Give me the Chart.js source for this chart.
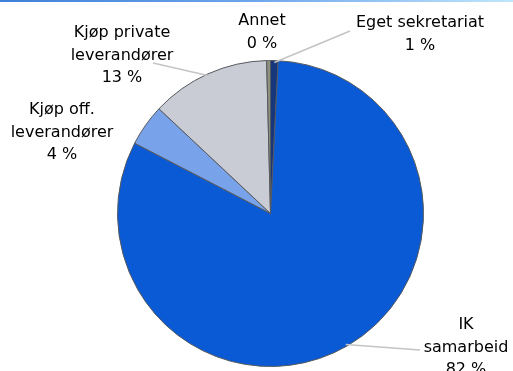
<!DOCTYPE html>
<html>
<head>
<meta charset="utf-8">
<script src="https://cdn.jsdelivr.net/npm/chart.js@4"></script>
<style>
  html, body { margin: 0; padding: 0; background: #fff; }
  #topLine { position: absolute; left: 0; top: 0; width: 513px; height: 2px;
    background: linear-gradient(to right, #3f7fd8, #6fa6ec 50%, #bfe6fb); }
  #wrap { width: 513px; height: 371px; }
</style>
</head>
<body>
<div id="topLine"></div>
<div id="wrap"><canvas id="chartCanvas"></canvas></div>
<script>
var categories = ["Eget sekretariat", "IK samarbeid", "Kjøp off. leverandører", "Kjøp private leverandører", "Annet"];
var shares = [0.8, 81.8, 4.4, 12.6, 0.4];
var labelLines = [["Eget sekretariat"], ["IK", "samarbeid"], ["Kjøp off.", "leverandører"], ["Kjøp private", "leverandører"], ["Annet"]];

var sliceColors = ["#16377c", "#0a5ad5", "#78a2ea", "#c9ccd4", "#8d9180"];

// where each label block sits (centre x, first line y) and whether it has a leader line
var labelSpots = [
  { x: 420, y: 23, lineTo: [350, 31] },
  { x: 466, y: 325, lineTo: [420, 350] },
  { x: 62, y: 110, lineTo: null },
  { x: 122, y: 33, lineTo: [153, 63] },
  { x: 262, y: 21, lineTo: null }
];

var pieLabels = {
  id: "pieLabels",
  afterDatasetsDraw: function (chart) {
    var ctx = chart.ctx;
    var meta = chart.getDatasetMeta(0);
    var total = shares.reduce(function (a, b) { return a + b; }, 0);
    ctx.save();
    meta.data.forEach(function (arc, i) {
      var spot = labelSpots[i];
      if (spot.lineTo) {
        var mid = (arc.startAngle + arc.endAngle) / 2;
        var r = arc.outerRadius - 2;
        ctx.strokeStyle = "#c4c4c4";
        ctx.lineWidth = 1.5;
        ctx.beginPath();
        ctx.moveTo(arc.x + Math.cos(mid) * r, arc.y + Math.sin(mid) * r);
        ctx.lineTo(spot.lineTo[0], spot.lineTo[1]);
        ctx.stroke();
      }
      var lines = labelLines[i].concat([Math.round(shares[i] / total * 100) + " %"]);
      ctx.fillStyle = "#000";
      ctx.font = "16px 'DejaVu Sans'";
      ctx.textAlign = "center";
      ctx.textBaseline = "middle";
      lines.forEach(function (t, k) {
        ctx.fillText(t, spot.x, spot.y + k * 22.5);
      });
    });
    ctx.restore();
  }
};

var ctx = document.getElementById("chartCanvas");
var shareChart = new Chart(ctx, {
  type: "pie",
  data: {
    labels: categories,
    datasets: [
      {
        data: shares,
        backgroundColor: sliceColors,
        borderColor: "#55585c",
        borderWidth: 1
      }
    ]
  },
  options: {
    responsive: true,
    maintainAspectRatio: false,
    animation: false,
    layout: { padding: { left: 117, right: 89, top: 60, bottom: 4 } },
    plugins: {
      legend: { display: false },
      tooltip: { enabled: false }
    }
  },
  plugins: [pieLabels]
});
</script>
</body>
</html>
